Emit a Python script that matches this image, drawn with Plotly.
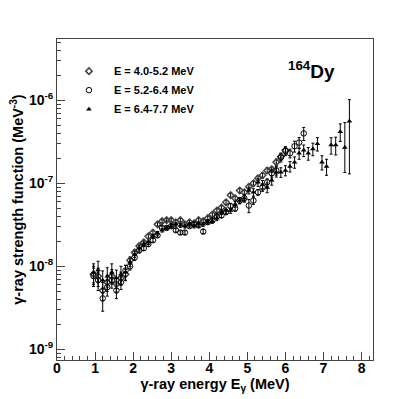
import plotly.graph_objects as go

# gamma-ray energy bins (MeV)
energy = [0.96, 1.08, 1.20, 1.32, 1.44, 1.56, 1.68, 1.80, 1.92, 2.04,
          2.16, 2.28, 2.40, 2.52, 2.64, 2.76, 2.88, 3.00, 3.12, 3.24,
          3.36, 3.48, 3.60, 3.72, 3.84, 3.96, 4.08, 4.20, 4.32, 4.44,
          4.56, 4.68, 4.80, 4.92, 5.04, 5.16, 5.28, 5.40, 5.52, 5.64,
          5.76, 5.88, 6.00, 6.12, 6.24, 6.36, 6.48, 6.60, 6.72, 6.84,
          6.96, 7.08, 7.20, 7.32, 7.44, 7.56, 7.68]

# E = 4.0-5.2 MeV (up to 6.00 MeV)
f_low = [8.0e-9, 7.6e-9, 5.1e-9, 6.4e-9, 7.6e-9, 6.1e-9, 7.2e-9, 8.0e-9, 1.18e-8, 1.47e-8,
         1.75e-8, 1.95e-8, 2.3e-8, 2.55e-8, 3.2e-8, 3.5e-8, 3.6e-8, 3.6e-8, 3.4e-8, 3.6e-8,
         3.2e-8, 3.4e-8, 3.3e-8, 3.6e-8, 3.5e-8, 3.8e-8, 4.2e-8, 4.7e-8, 5.1e-8, 5.9e-8,
         7.2e-8, 6.6e-8, 8.2e-8, 7.8e-8, 9.1e-8, 1.0e-7, 1.15e-7, 1.25e-7, 1.43e-7, 1.48e-7,
         1.8e-7, 2.1e-7, 2.5e-7]
rel_low = [0.25, 0.25, 0.25, 0.22, 0.2, 0.2, 0.18, 0.15, 0.1, 0.08,
           0.07, 0.06, 0.06, 0.05, 0.05, 0.05, 0.05, 0.05, 0.05, 0.05,
           0.05, 0.05, 0.05, 0.05, 0.05, 0.05, 0.05, 0.05, 0.05, 0.06,
           0.06, 0.06, 0.06, 0.06, 0.07, 0.07, 0.07, 0.08, 0.08, 0.08,
           0.09, 0.1, 0.1]

# E = 5.2-6.4 MeV (up to 6.48 MeV)
f_mid = [7.6e-9, 6.8e-9, 4.1e-9, 5.6e-9, 6.8e-9, 5.1e-9, 6.4e-9, 8.9e-9, 1.0e-8, 1.28e-8,
         1.56e-8, 1.65e-8, 1.85e-8, 2.06e-8, 2.36e-8, 2.9e-8, 2.9e-8, 3.05e-8, 2.72e-8, 2.55e-8,
         2.55e-8, 3.05e-8, 3.2e-8, 3.1e-8, 2.62e-8, 3.4e-8, 3.58e-8, 4.0e-8, 4.1e-8, 4.5e-8,
         5.3e-8, 5.0e-8, 6.2e-8, 6.6e-8, 5.4e-8, 6.2e-8, 7.8e-8, 8.9e-8, 1.03e-7, 1.32e-7,
         1.43e-7, 2.05e-7, 2.45e-7, 2.3e-7, 2.8e-7, 3.1e-7, 4.0e-7]
rel_mid = [0.25, 0.25, 0.3, 0.22, 0.2, 0.2, 0.18, 0.15, 0.1, 0.08,
           0.07, 0.06, 0.06, 0.05, 0.05, 0.05, 0.05, 0.05, 0.05, 0.05,
           0.05, 0.05, 0.05, 0.05, 0.06, 0.05, 0.05, 0.06, 0.06, 0.07,
           0.08, 0.08, 0.08, 0.1, 0.18, 0.1, 0.08, 0.1, 0.1, 0.12,
           0.12, 0.12, 0.12, 0.12, 0.15, 0.15, 0.18]

# E = 6.4-7.7 MeV (full range)
f_high = [8.5e-9, 9.0e-9, 6.8e-9, 7.6e-9, 8.5e-9, 7.2e-9, 8.0e-9, 8.5e-9, 1.12e-8, 1.4e-8,
          1.65e-8, 1.85e-8, 1.95e-8, 2.3e-8, 2.5e-8, 2.72e-8, 2.9e-8, 3.05e-8, 3.2e-8, 3.1e-8,
          3.05e-8, 3.2e-8, 3.05e-8, 3.2e-8, 3.2e-8, 3.4e-8, 3.5e-8, 3.8e-8, 4.5e-8, 4.7e-8,
          4.7e-8, 5.6e-8, 6.2e-8, 6.6e-8, 8.2e-8, 7.8e-8, 1.03e-7, 9.7e-8, 8.9e-8, 1.09e-7,
          1.36e-7, 1.36e-7, 1.43e-7, 1.6e-7, 1.8e-7, 2.3e-7, 2.5e-7, 2.3e-7, 2.6e-7, 3.0e-7,
          1.8e-7, 1.6e-7, 2.9e-7, 2.9e-7, 4.2e-7, 2.7e-7, 5.6e-7]
err_high_up = [2.2e-9, 2.5e-9, 2.0e-9, 2.0e-9, 2.2e-9, 1.8e-9, 2.0e-9, 1.8e-9, 1.3e-9, 1.2e-9,
               1.2e-9, 1.2e-9, 1.2e-9, 1.2e-9, 1.3e-9, 1.4e-9, 1.5e-9, 1.5e-9, 1.6e-9, 1.6e-9,
               1.6e-9, 1.6e-9, 1.6e-9, 1.7e-9, 1.7e-9, 1.8e-9, 2.0e-9, 2.5e-9, 3.0e-9, 3.5e-9,
               3.5e-9, 4.5e-9, 5.5e-9, 6.0e-9, 7.5e-9, 8.0e-9, 1.1e-8, 1.1e-8, 1.2e-8, 1.4e-8,
               1.7e-8, 1.8e-8, 2.0e-8, 2.3e-8, 2.8e-8, 3.5e-8, 4.0e-8, 4.0e-8, 4.5e-8, 5.5e-8,
               3.5e-8, 3.5e-8, 6.5e-8, 7.0e-8, 1.0e-7, 2.7e-7, 4.6e-7]
err_high_down = [2.2e-9, 2.5e-9, 2.0e-9, 2.0e-9, 2.2e-9, 1.8e-9, 2.0e-9, 1.8e-9, 1.3e-9, 1.2e-9,
                 1.2e-9, 1.2e-9, 1.2e-9, 1.2e-9, 1.3e-9, 1.4e-9, 1.5e-9, 1.5e-9, 1.6e-9, 1.6e-9,
                 1.6e-9, 1.6e-9, 1.6e-9, 1.7e-9, 1.7e-9, 1.8e-9, 2.0e-9, 2.5e-9, 3.0e-9, 3.5e-9,
                 3.5e-9, 4.5e-9, 5.5e-9, 6.0e-9, 7.5e-9, 8.0e-9, 1.1e-8, 1.1e-8, 1.2e-8, 1.4e-8,
                 1.7e-8, 1.8e-8, 2.0e-8, 2.3e-8, 2.8e-8, 3.5e-8, 4.0e-8, 4.0e-8, 4.5e-8, 5.5e-8,
                 3.5e-8, 3.5e-8, 6.5e-8, 7.0e-8, 1.0e-7, 1.35e-7, 4.3e-7]

labels = ["E = 4.0-5.2 MeV", "E = 5.2-6.4 MeV", "E = 6.4-7.7 MeV"]
y_tickvals = [1e-9, 1e-8, 1e-7, 1e-6]
y_ticktext = ["10<sup>-9</sup>", "10<sup>-8</sup>", "10<sup>-7</sup>", "10<sup>-6</sup>"]
y_minor = [m * 10.0 ** e for e in (-10, -9, -8, -7, -6) for m in range(2, 10)]

FONT = "Liberation Sans, Arial, sans-serif"


def err_bar(plus, minus=None):
    d = dict(type="data", array=plus, color="black", thickness=1, width=1.5)
    if minus is not None:
        d["symmetric"] = False
        d["arrayminus"] = minus
    return d


fig = go.Figure()

fig.add_trace(go.Scatter(
    x=energy[:len(f_low)], y=f_low, mode="markers", name="<b>" + labels[0] + "</b>",
    marker=dict(symbol="diamond-open", size=5, color="#444", line=dict(width=1.5, color="#444")),
    error_y=err_bar([v * r for v, r in zip(f_low, rel_low)]),
))
fig.add_trace(go.Scatter(
    x=energy[:len(f_mid)], y=f_mid, mode="markers", name="<b>" + labels[1] + "</b>",
    marker=dict(symbol="circle-open", size=5.5, color="black", line=dict(width=1, color="black")),
    error_y=err_bar([v * r for v, r in zip(f_mid, rel_mid)]),
))
fig.add_trace(go.Scatter(
    x=energy, y=f_high, mode="markers", name="<b>" + labels[2] + "</b>",
    marker=dict(symbol="triangle-up", size=5, color="black"),
    error_y=err_bar(err_high_up, err_high_down),
))

fig.add_annotation(
    x=0.725, y=0.902, xref="paper", yref="paper", xanchor="left", yanchor="middle",
    showarrow=False,
    text="<b><sup>164</sup>Dy</b>", font=dict(family=FONT, size=19, color="black"),
)

# page body has an 8px margin, so the figure is a little smaller than the window
fig.update_layout(
    width=407, height=391,
    margin=dict(l=49, r=42, t=31, b=39),
    paper_bgcolor="white", plot_bgcolor="white",
    font=dict(family=FONT, color="black"),
    showlegend=True,
    legend=dict(
        x=0.022, y=0.945, xanchor="left", yanchor="top",
        bgcolor="rgba(0,0,0,0)", font=dict(family=FONT, size=11, color="black"),
        itemwidth=40, tracegroupgap=0,
    ),
)

fig.update_xaxes(
    range=[0, 8.3], showgrid=False, zeroline=False, automargin=False,
    showline=True, linecolor="#444", linewidth=1, mirror=True,
    ticks="inside", ticklen=8, tickcolor="#444", dtick=1, tick0=0,
    ticklabelstandoff=-5,
    tickfont=dict(family=FONT, size=14, color="black", weight="bold"),
    minor=dict(ticks="inside", ticklen=4, dtick=0.2, tickcolor="#444", showgrid=False),
    title=dict(text="<b>γ-ray energy E<sub>γ</sub> (MeV)</b>", font=dict(family=FONT, size=14.5), standoff=0),
)
fig.update_yaxes(
    type="log", range=[-9.13, -5.26], showgrid=False, zeroline=False, automargin=False,
    showline=True, linecolor="#444", linewidth=1, mirror=True,
    ticks="inside", ticklen=8, tickcolor="#444",
    tickvals=y_tickvals, ticktext=y_ticktext,
    tickfont=dict(family=FONT, size=14, color="black", weight="bold"),
    minor=dict(ticks="inside", ticklen=4, tickcolor="#444", showgrid=False,
               tickmode="array", tickvals=y_minor),
    title=dict(text="<b>γ-ray strength function (MeV<sup>-3</sup>)</b>", font=dict(family=FONT, size=14.5), standoff=4),
)

fig.write_html("out.html")
